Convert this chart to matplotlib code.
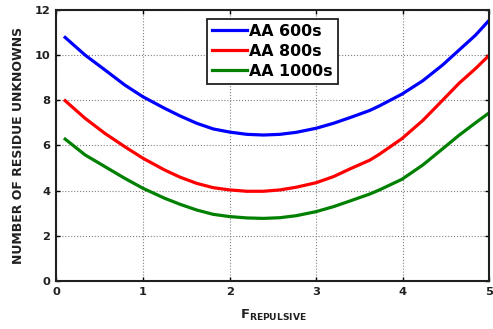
import matplotlib
matplotlib.use('Agg')
import matplotlib.pyplot as plt

plt.rcParams['font.family'] = ['DejaVu Sans']
plt.rcParams['mathtext.fontset'] = 'dejavusans'

# values
f_rep = [0.1, 0.33, 0.56, 0.79, 1.0, 1.25, 1.43, 1.62, 1.81, 2.0, 2.2, 2.39,
         2.58, 2.77, 3.0, 3.2, 3.39, 3.62, 3.73, 3.99, 4.23, 4.46, 4.65, 4.84, 5.0]
aa600 = [10.78, 10.0, 9.34, 8.67, 8.15, 7.64, 7.30, 6.98, 6.73, 6.59, 6.49, 6.46,
         6.49, 6.58, 6.76, 6.98, 7.23, 7.55, 7.75, 8.27, 8.86, 9.56, 10.22, 10.88, 11.55]
aa800 = [7.98, 7.2, 6.53, 5.94, 5.43, 4.91, 4.59, 4.32, 4.13, 4.03, 3.97, 3.97,
         4.03, 4.15, 4.35, 4.62, 4.96, 5.35, 5.61, 6.3, 7.1, 8.0, 8.75, 9.4, 10.0]
aa1000 = [6.28, 5.58, 5.06, 4.54, 4.10, 3.66, 3.39, 3.14, 2.95, 2.85, 2.79, 2.77,
          2.80, 2.89, 3.07, 3.29, 3.54, 3.85, 4.03, 4.5, 5.13, 5.85, 6.45, 7.0, 7.45]
labels = ['AA 600s', 'AA 800s', 'AA 1000s']
colors = ['#0000ff', '#ff0000', '#008000']

fig = plt.figure(figsize=(4.93, 3.29), dpi=100)
ax = fig.add_axes([0.1146, 0.146, 0.878, 0.824])

for ys, lab, c in zip([aa600, aa800, aa1000], labels, colors):
    ax.plot(f_rep, ys, color=c, lw=2.3, label=lab)

ax.set_xlim(0, 5)
ax.set_ylim(0, 12)
ax.set_xticks(range(0, 6))
ax.set_yticks(range(0, 13, 2))
ax.grid(True, linestyle=':', color='#808080', lw=0.8)
for s in ax.spines.values():
    s.set_linewidth(1.5)
    s.set_color('#202020')
ax.tick_params(direction='in', length=3, width=1.0, top=True, right=True,
               labelsize=8.2, pad=4.5, labelcolor='#202020')
for t in ax.get_xticklabels() + ax.get_yticklabels():
    t.set_fontweight('bold')

ax.set_ylabel('NUMBER OF RESIDUE UNKNOWNS', fontsize=9, fontweight='bold',
              labelpad=7, color='#202020')
ax.set_xlabel(r'$\mathbf{F}_{\mathbf{REPULSIVE}}$', fontsize=9.4, labelpad=7.5,
              color='#202020')

leg = ax.legend(loc='upper left', bbox_to_anchor=(0.3476, 0.967), fancybox=False,
                framealpha=1, edgecolor='#202020', prop={'weight': 'bold', 'size': 11.4},
                handlelength=2.2, handletextpad=0.17, borderpad=0.3, labelspacing=0.33,
                borderaxespad=0)
leg.get_frame().set_linewidth(1.3)

fig.savefig('out.png', dpi=100)
